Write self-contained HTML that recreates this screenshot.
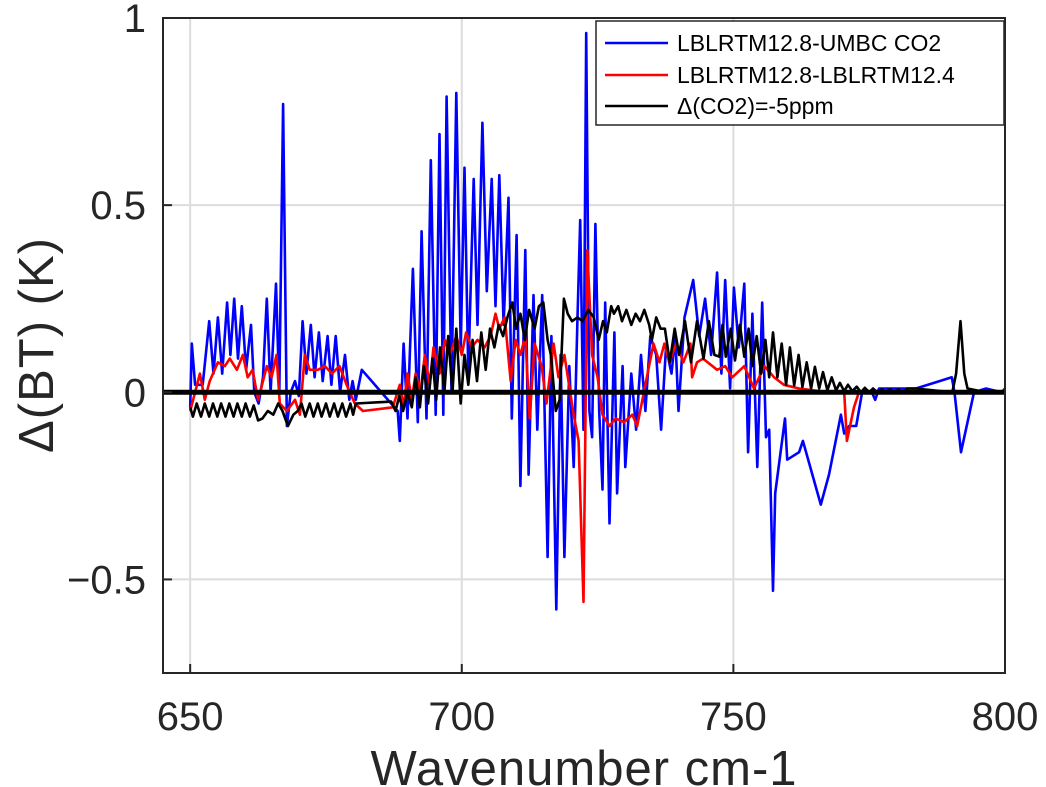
<!DOCTYPE html>
<html><head><meta charset="utf-8"><style>
html,body{margin:0;padding:0;background:#fff;}
svg{display:block;font-family:"Liberation Sans","DejaVu Sans",sans-serif;}
</style></head><body>
<svg id="chart" width="1046" height="787" viewBox="0 0 1046 787" xmlns="http://www.w3.org/2000/svg">
<g id="grid"></g>
<g id="series"></g>
<g id="axes"></g>
<text x="584" y="785" font-size="49" text-anchor="middle" fill="#262626" letter-spacing="1">Wavenumber cm-1</text>
<text transform="translate(53,345) rotate(-90)" font-size="49" text-anchor="middle" fill="#262626" letter-spacing="1">Δ(BT) (K)</text>
<g>
<rect x="596" y="21" width="408" height="104" fill="#fff" stroke="#262626" stroke-width="1.5"/>
<line x1="605" y1="43" x2="668" y2="43" stroke="#0000ff" stroke-width="2.5"/>
<text x="677" y="51" font-size="23" fill="#000">LBLRTM12.8-UMBC CO2</text>
<line x1="605" y1="75" x2="668" y2="75" stroke="#ff0000" stroke-width="2.5"/>
<text x="677" y="83" font-size="23" fill="#000">LBLRTM12.8-LBLRTM12.4</text>
<line x1="605" y1="106" x2="668" y2="106" stroke="#000" stroke-width="2.5"/>
<text x="677" y="114" font-size="23" fill="#000">Δ(CO2)=-5ppm</text>
</g>
</svg>
<script>
const xTicks=[650,700,750,800];
const yTicks=[-0.5,0,0.5,1];
const yTickLabels=["\u22120.5","0","0.5","1"];
const blueWn=[650,650.3,650.9,652.3,653.5,654.3,655.1,655.9,656.8,657.4,658.1,658.8,659.5,660.3,661.2,661.8,662.6,663.4,664.1,664.8,665.8,666.4,667.1,667.8,668.5,669.3,670.0,670.7,671.4,672.2,672.9,673.7,674.4,675.3,676.0,676.8,677.6,678.5,679.3,679.9,680.5,681.6,688.2,688.6,689.3,690.0,691.0,691.9,692.6,693.5,694.3,695.2,695.9,696.6,697.2,698.1,699.0,699.8,700.5,701.2,702.2,702.9,703.8,704.6,705.5,706.2,706.9,707.7,708.6,709.2,710.1,710.8,711.7,712.3,713.2,713.9,714.8,715.8,716.5,717.4,718.2,718.9,719.8,720.6,721.3,721.8,722.4,722.9,723.5,724.0,724.6,725.3,725.9,726.4,727.2,728.1,728.6,729.6,730.1,731.2,732.1,733.0,733.8,734.7,735.8,736.7,737.6,738.6,739.3,739.9,741.0,742.6,743.7,744.8,745.9,747.0,747.8,748.5,749.4,750.1,751.0,752.0,752.7,753.5,754.4,755.3,756.0,756.6,757.3,757.7,759.5,759.9,762.1,762.8,766.1,767.6,769.8,770.4,771.3,772.6,773.7,775.5,776.1,776.8,783.6,790.2,790.7,791.9,794.3,796.5,799.4,800];
const blueVal=[-0.04,0.13,0.02,0.02,0.19,0.05,0.2,0.05,0.24,0.1,0.25,0.09,0.23,0.06,0.18,0.0,-0.03,0.04,0.25,0.0,0.29,0.0,0.77,-0.09,0.0,0.03,-0.01,0.19,0.05,0.18,0.04,0.16,0.03,0.15,0.02,0.15,0.0,0.1,-0.02,0.03,-0.02,0.06,-0.05,-0.13,0.13,-0.07,0.33,-0.08,0.43,-0.07,0.62,-0.06,0.69,-0.06,0.79,0.0,0.8,0.12,0.6,0.05,0.57,0.18,0.72,0.27,0.57,0.23,0.58,0.18,0.52,-0.07,0.42,-0.25,0.38,-0.22,0.26,-0.1,0.26,-0.44,0.15,-0.58,0.1,-0.44,0.07,-0.2,0.2,0.46,-0.1,0.96,-0.05,-0.12,0.45,-0.05,-0.26,0.24,-0.35,0.16,-0.27,0.07,-0.2,0.05,-0.1,0.1,-0.05,0.15,0.1,-0.1,0.12,0.05,0.15,-0.05,0.2,0.3,0.15,0.25,0.1,0.32,0.05,0.3,0.01,0.28,0.12,0.29,-0.16,0.21,-0.2,0.24,-0.12,-0.1,-0.53,-0.27,-0.07,-0.18,-0.16,-0.13,-0.3,-0.22,-0.06,-0.11,-0.09,-0.09,0.0,0.0,-0.02,0.01,0.01,0.04,0.0,-0.16,0.0,0.01,0.0,0.01];
const redWn=[650,650.9,651.8,652.7,653.6,655.1,656.4,657.3,658.6,659.7,660.6,661.5,662.5,663.4,664.1,665.0,665.9,666.5,667.8,669.3,670.2,671.1,672.0,673.5,674.8,676.1,677.5,678.8,680.3,681.8,687.3,688.6,689.3,690,690.8,691.5,692.4,693.2,694.1,694.8,695.9,696.9,697.8,699.0,700,700.8,701.8,702.9,704.2,705.3,706.2,706.9,707.9,709.0,709.9,710.8,711.7,712.5,713.4,714.7,715.6,716.9,717.8,718.9,720.6,721.5,722.4,723.1,724.0,725.0,725.9,727.2,728.3,729.9,731.4,732.3,735.3,736.4,737.3,738.2,739.5,740.8,742.1,742.4,743.3,744.4,747.0,748.5,749.8,752.0,753.8,755.7,757.5,759.3,762.1,767.6,770.4,770.9,772.2,773.1,800];
const redVal=[-0.05,0.0,0.05,-0.02,0.03,0.08,0.07,0.09,0.06,0.1,0.04,0.06,-0.02,0.03,0.07,0.04,0.1,-0.03,-0.05,-0.02,-0.06,0.1,0.06,0.06,0.07,0.05,0.07,0.02,-0.03,-0.05,-0.04,0.02,-0.04,0.05,-0.02,0.05,0.0,0.1,0.02,0.12,0.05,0.14,0.1,0.15,0.1,0.16,0.12,0.14,0.12,0.15,0.21,0.17,0.2,0.03,0.14,0.1,0.15,-0.07,0.13,0.07,-0.03,0.13,0.04,0.1,-0.06,-0.13,-0.56,0.38,0.1,0.04,-0.06,-0.09,-0.07,-0.08,-0.06,-0.09,0.13,0.08,0.13,0.08,0.13,0.08,0.13,0.04,0.08,0.09,0.06,0.07,0.04,0.07,0.01,0.07,0.04,0.02,0.01,0.0,0.0,-0.13,-0.04,0.0,0.0];
const blackWn=[650,650.5,651.2,652.0,652.7,653.5,654.2,655.0,655.7,656.5,657.2,658.0,658.7,659.5,660.2,661.0,661.7,662.5,663.3,664.3,665.3,666.2,667.0,668.0,669.0,669.8,670.5,671.2,672.0,672.7,673.5,674.2,675.0,675.7,676.5,677.2,678.0,678.7,679.5,680.0,680.5,687.0,687.8,688.5,689.2,690.0,690.8,691.5,692.3,693.0,693.8,694.6,695.3,696.0,696.8,697.5,698.3,699.0,699.8,700.5,701.2,702.0,702.8,703.6,704.4,705.2,706.0,706.8,707.6,708.4,709.3,710.0,710.8,711.6,712.4,713.4,714.2,715.0,715.8,716.4,717.3,718.0,718.8,719.5,720.3,721.3,722.2,723.3,724.3,725.2,726.0,726.7,727.5,728.0,728.8,729.5,730.3,731.2,732.0,732.8,733.6,734.5,735.0,735.8,736.6,737.4,738.3,739.2,740.0,741.1,742.2,743.3,744.5,745.5,746.5,747.4,748.0,748.6,749.5,750.3,751.2,752.0,752.8,753.5,754.3,755.1,755.9,756.6,757.3,758.1,758.9,759.7,760.4,761.2,762.0,762.7,763.5,764.3,765.0,765.8,766.5,767.3,768.1,768.9,769.6,770.4,771.1,771.9,772.7,773.5,774.2,775.0,775.7,776.5,777.3,778.0,778.8,779.6,780.3,781.1,782.0,783.6,790.3,791.0,791.8,792.5,793.1,796.5,800];
const blackVal=[-0.04,-0.065,-0.03,-0.065,-0.03,-0.065,-0.03,-0.065,-0.03,-0.065,-0.03,-0.065,-0.03,-0.065,-0.03,-0.065,-0.035,-0.075,-0.07,-0.05,-0.06,-0.03,-0.05,-0.09,-0.06,-0.05,-0.03,-0.065,-0.03,-0.065,-0.03,-0.065,-0.03,-0.065,-0.03,-0.065,-0.03,-0.065,-0.03,-0.06,-0.03,-0.025,-0.05,-0.01,-0.05,0.0,-0.04,0.04,-0.04,0.07,-0.03,0.09,-0.02,0.12,0.0,0.15,0.0,0.17,-0.03,0.1,0.02,0.14,0.03,0.16,0.06,0.17,0.12,0.18,0.15,0.2,0.24,0.17,0.21,0.14,0.22,0.17,0.23,0.24,0.14,0.1,-0.05,-0.02,0.25,0.21,0.19,0.2,0.19,0.22,0.2,0.14,0.19,0.16,0.23,0.21,0.23,0.19,0.22,0.18,0.21,0.19,0.22,0.18,0.14,0.2,0.17,0.17,0.08,0.17,0.1,0.19,0.08,0.19,0.09,0.19,0.1,0.095,0.18,0.095,0.17,0.085,0.18,0.095,0.17,0.07,0.15,0.05,0.14,0.04,0.16,0.04,0.13,0.02,0.12,0.018,0.1,0.014,0.08,0.01,0.068,0.01,0.054,0.005,0.04,0.005,0.025,0.003,0.02,0.003,0.015,0.0,0.012,0.0,0.01,0.0,0.008,0.0,0.008,0.0,0.008,0.0,0.01,0.01,0.0,0.05,0.19,0.05,0.01,0.0,0.0];

const X0=163,X1=1005,Y0=18,Y1=673,xmin=645,xmax=800,ymin=-0.75,ymax=1;
function sx(v){return X0+(v-xmin)/(xmax-xmin)*(X1-X0);}
function sy(v){return Y1-(v-ymin)/(ymax-ymin)*(Y1-Y0);}
const NS="http://www.w3.org/2000/svg";
function mk(tag,attrs,parent){const e=document.createElementNS(NS,tag);for(const k in attrs)e.setAttribute(k,attrs[k]);parent.appendChild(e);return e;}
const grid=document.getElementById('grid'),axes=document.getElementById('axes'),series=document.getElementById('series');
xTicks.forEach(t=>{
  const g=mk('line',{x1:sx(t),x2:sx(t),y1:Y0,y2:Y1,stroke:'#dcdcdc','stroke-width':2},grid);
  
  
  const tk=mk('line',{x1:sx(t),x2:sx(t),y1:Y1,y2:Y1-9,stroke:'#262626','stroke-width':2},axes);
  
  
  const lb=mk('text',{x:sx(t),y:730,'font-size':40,'text-anchor':'middle',fill:'#262626'},axes);
  lb.textContent=String(t);
  
  
});
yTicks.forEach((t,i)=>{
  const g=mk('line',{x1:X0,x2:X1,y1:sy(t),y2:sy(t),stroke:'#dcdcdc','stroke-width':2},grid);
  
  
  const tk=mk('line',{x1:X0,x2:X0+9,y1:sy(t),y2:sy(t),stroke:'#262626','stroke-width':2},axes);
  
  
  const lb=mk('text',{x:146,y:sy(t)+14,'font-size':40,'text-anchor':'end',fill:'#262626'},axes);
  lb.textContent=yTickLabels[i];
  
  
});
function path(wn,val,color,name,w){
  let d='';for(let i=0;i<wn.length;i++){d+=(i?'L':'M')+sx(wn[i]).toFixed(1)+','+sy(val[i]).toFixed(1);}
  const p=mk('path',{d:d,fill:'none',stroke:color,'stroke-width':w,'stroke-linejoin':'round'},series);
  
  
}
path(blueWn,blueVal,'#0000ff','series-umbc-co2',2.6);
path(redWn,redVal,'#ff0000','series-lblrtm124',2.6);
path(blackWn,blackVal,'#000000','series-co2-minus5ppm',2.6);
const z=mk('line',{x1:X0,x2:X1,y1:sy(0),y2:sy(0),stroke:'#000','stroke-width':5},series);


const box=mk('rect',{x:X0,y:Y0,width:X1-X0,height:Y1-Y0,fill:'none',stroke:'#262626','stroke-width':2},axes);


</script>
</body></html>
